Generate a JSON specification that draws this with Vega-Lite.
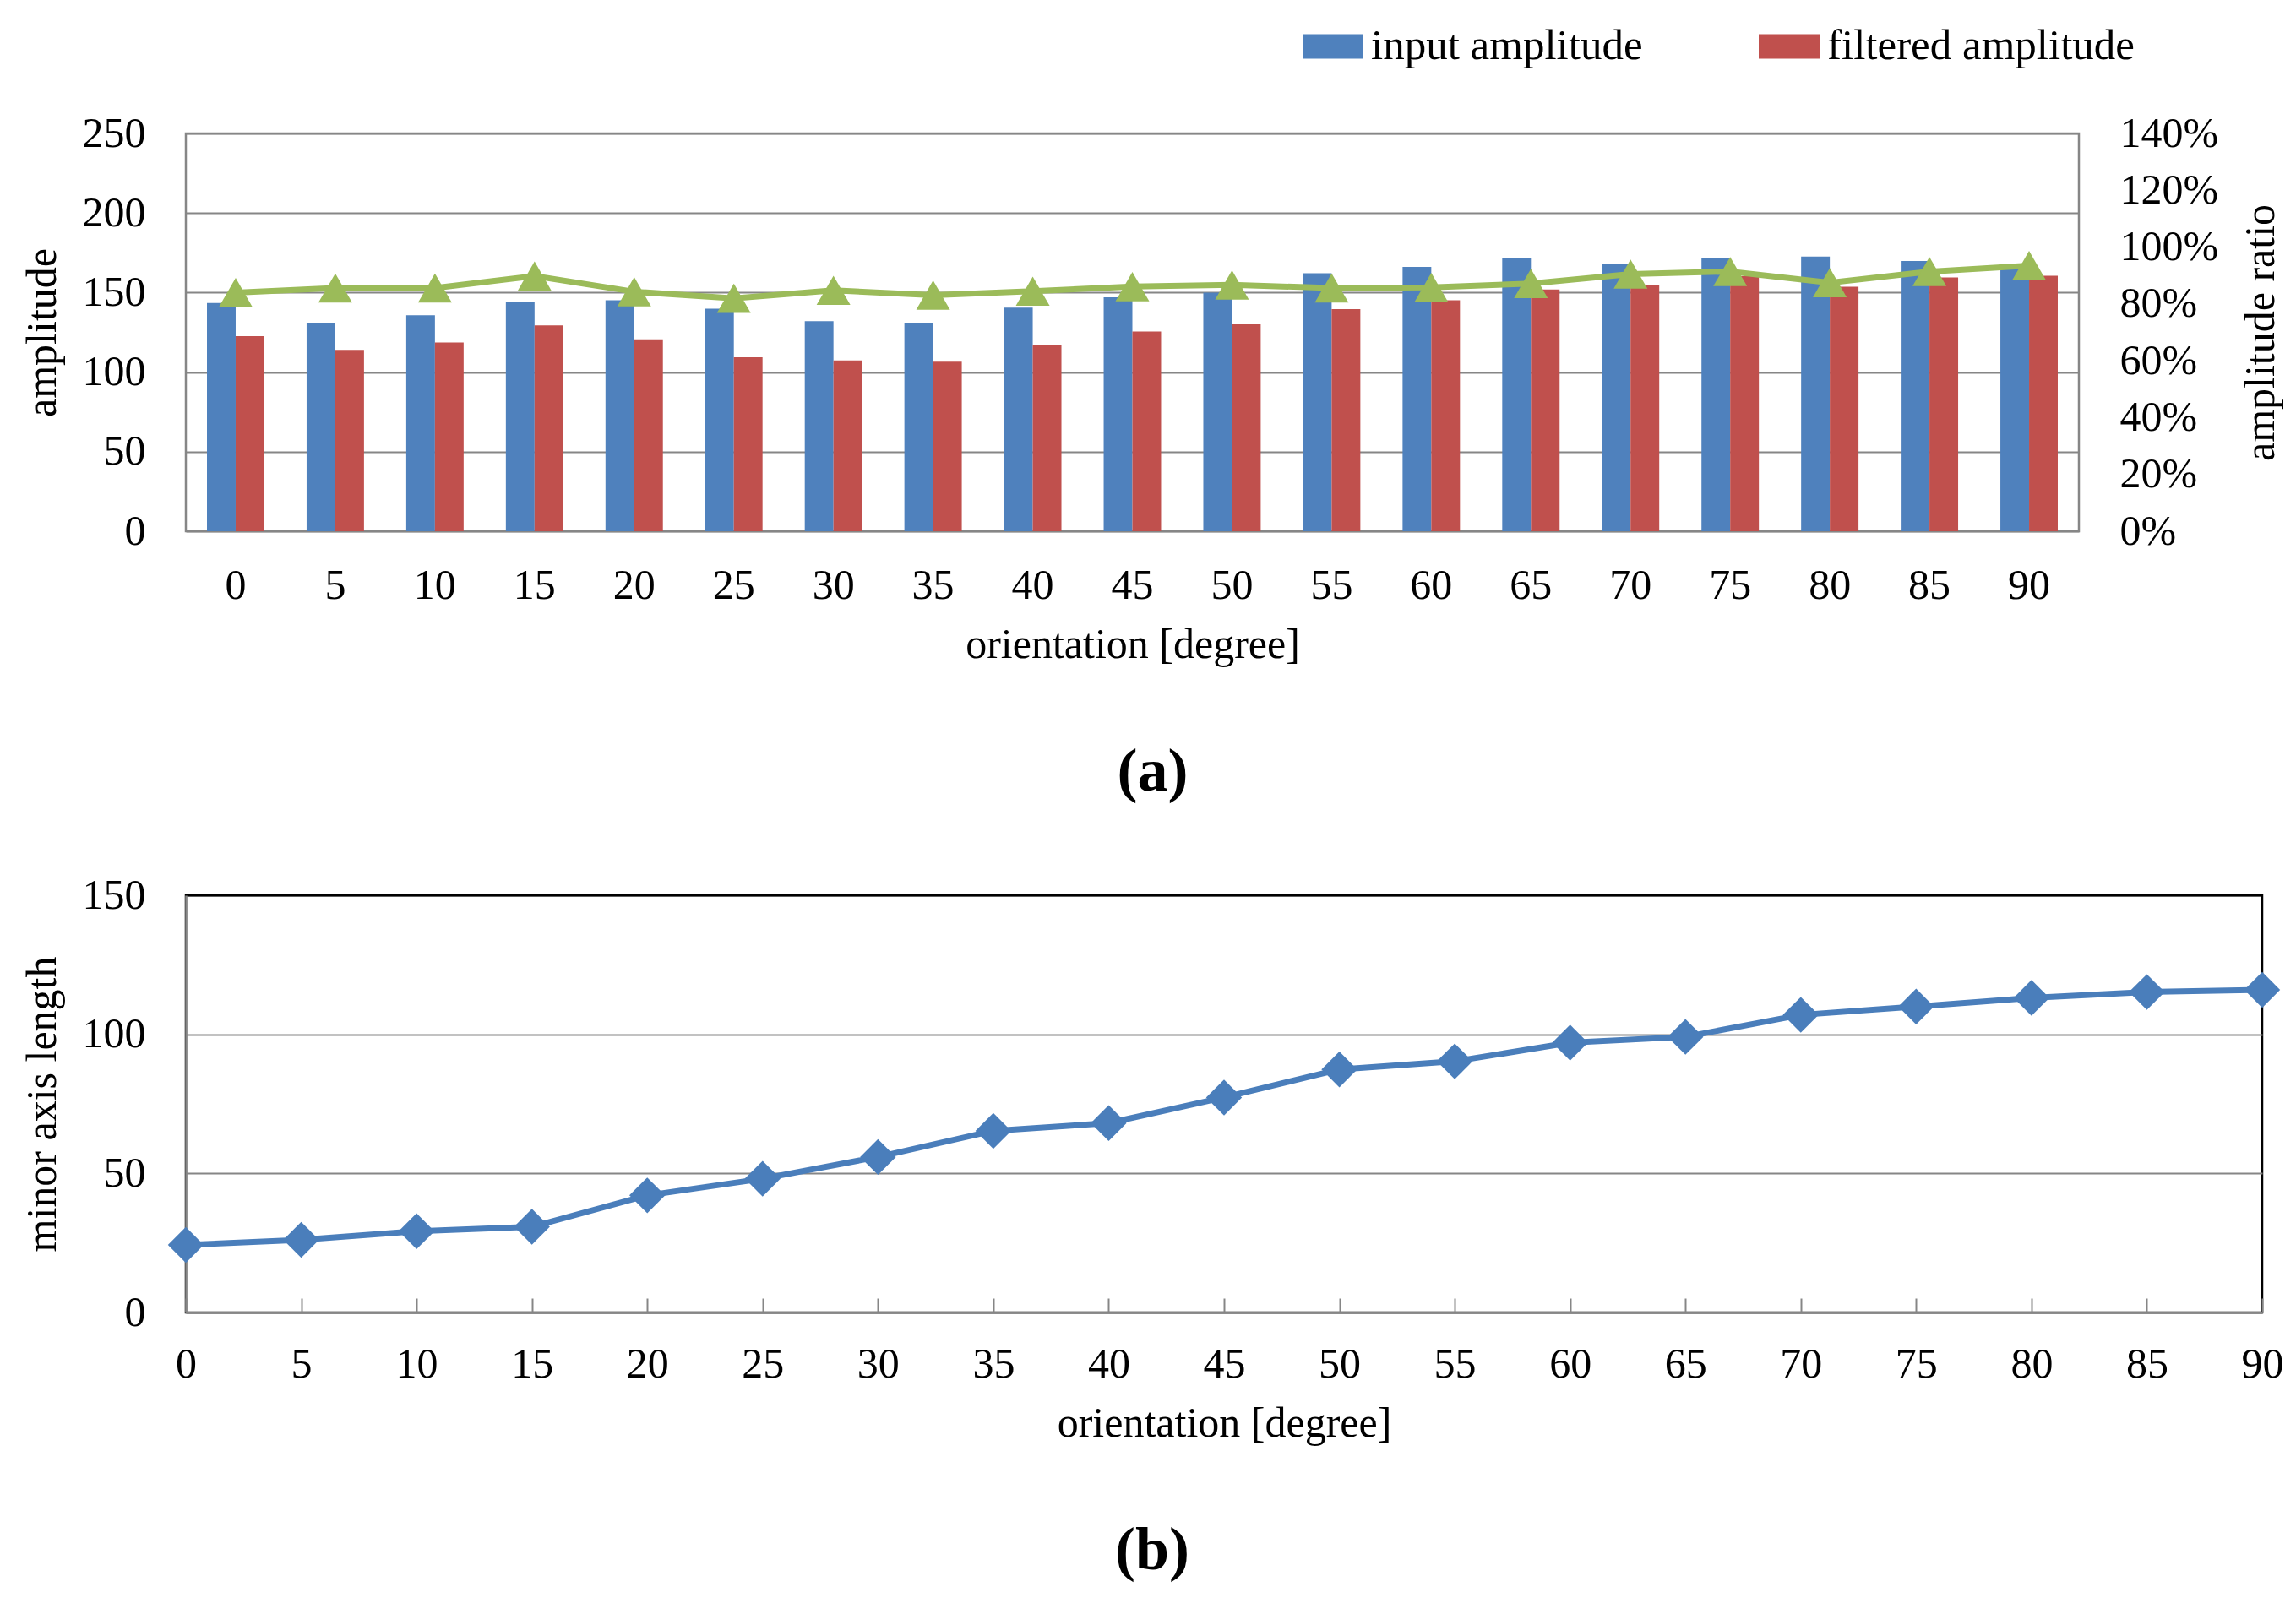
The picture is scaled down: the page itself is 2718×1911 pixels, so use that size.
{
  "$schema": "https://vega.github.io/schema/vega-lite/v6.json",
  "background": "white",
  "padding": {"left": 23, "top": 19, "right": 12, "bottom": 20},
  "config": {
    "font": "Liberation Serif",
    "view": {"stroke": null},
    "axis": {
      "labelFont": "Liberation Serif",
      "labelFontSize": 50,
      "labelColor": "black",
      "titleFont": "Liberation Serif",
      "titleFontSize": 50,
      "titleFontWeight": "normal",
      "titleColor": "black",
      "gridColor": "#868686",
      "gridWidth": 2,
      "domainColor": "#868686",
      "domainWidth": 2.5,
      "tickColor": "#868686",
      "tickWidth": 2
    },
    "legend": {
      "labelFont": "Liberation Serif",
      "labelFontSize": 51,
      "labelColor": "black",
      "labelLimit": 0
    },
    "title": {"font": "Liberation Serif", "color": "black"}
  },
  "spacing": 81,
  "vconcat": [
    {
      "width": 2241,
      "height": 471,
      "view": {"stroke": "#868686", "strokeWidth": 2.5},
      "title": {"text": "(a)", "orient": "bottom", "fontSize": 72, "fontWeight": "bold", "offset": 91, "dx": 24},
      "data": {
        "values": [
          {"angle": 0, "input amplitude": 143.5, "filtered amplitude": 122.6, "ratio": 0.84},
          {"angle": 5, "input amplitude": 131, "filtered amplitude": 114, "ratio": 0.856},
          {"angle": 10, "input amplitude": 135.7, "filtered amplitude": 118.6, "ratio": 0.856},
          {"angle": 15, "input amplitude": 144.4, "filtered amplitude": 129.4, "ratio": 0.898},
          {"angle": 20, "input amplitude": 145.2, "filtered amplitude": 120.6, "ratio": 0.843},
          {"angle": 25, "input amplitude": 139.8, "filtered amplitude": 109.3, "ratio": 0.82},
          {"angle": 30, "input amplitude": 132, "filtered amplitude": 107.3, "ratio": 0.848},
          {"angle": 35, "input amplitude": 131, "filtered amplitude": 106.5, "ratio": 0.831},
          {"angle": 40, "input amplitude": 140.5, "filtered amplitude": 116.9, "ratio": 0.845},
          {"angle": 45, "input amplitude": 147, "filtered amplitude": 125.5, "ratio": 0.861},
          {"angle": 50, "input amplitude": 150, "filtered amplitude": 130, "ratio": 0.867},
          {"angle": 55, "input amplitude": 162.2, "filtered amplitude": 139.6, "ratio": 0.856},
          {"angle": 60, "input amplitude": 166.1, "filtered amplitude": 145.2, "ratio": 0.858},
          {"angle": 65, "input amplitude": 171.8, "filtered amplitude": 151.9, "ratio": 0.872},
          {"angle": 70, "input amplitude": 167.9, "filtered amplitude": 154.6, "ratio": 0.905},
          {"angle": 75, "input amplitude": 171.8, "filtered amplitude": 160.3, "ratio": 0.914},
          {"angle": 80, "input amplitude": 172.6, "filtered amplitude": 153.6, "ratio": 0.875},
          {"angle": 85, "input amplitude": 169.9, "filtered amplitude": 159.5, "ratio": 0.914},
          {"angle": 90, "input amplitude": 165, "filtered amplitude": 160.5, "ratio": 0.935}
        ]
      },
      "layer": [
        {
          "transform": [{"fold": ["input amplitude", "filtered amplitude"], "as": ["series", "amp"]}],
          "mark": {"type": "bar"},
          "encoding": {
            "x": {
              "field": "angle",
              "type": "ordinal",
              "scale": {"paddingInner": 0.424, "paddingOuter": 0.212},
              "axis": {"labelAngle": 0, "ticks": false, "domain": false, "labelPadding": 39, "title": "orientation  [degree]", "titlePadding": 20}
            },
            "xOffset": {"field": "series", "type": "nominal", "sort": ["input amplitude", "filtered amplitude"]},
            "y": {
              "field": "amp",
              "type": "quantitative",
              "scale": {"domain": [0, 250]},
              "axis": {"values": [0, 50, 100, 150, 200, 250], "ticks": false, "domain": false, "labelPadding": 48, "title": "amplitude", "titlePadding": 22}
            },
            "color": {
              "field": "series",
              "type": "nominal",
              "sort": ["input amplitude", "filtered amplitude"],
              "scale": {"domain": ["input amplitude", "filtered amplitude"], "range": ["#4F81BD", "#C0504D"]},
              "legend": {
                "title": null,
                "orient": "none",
                "direction": "horizontal",
                "legendX": 1322,
                "legendY": -139,
                "symbolType": "M-1,-0.4H1V0.4H-1Z",
                "symbolSize": 5184,
                "symbolStrokeWidth": 0,
                "labelOffset": 9,
                "columnPadding": 137
              }
            }
          }
        },
        {
          "mark": {
            "type": "line",
            "color": "#9BBB59",
            "strokeWidth": 7,
            "point": {"shape": "triangle-up", "size": 1600, "filled": true, "color": "#9BBB59", "opacity": 1}
          },
          "encoding": {
            "x": {"field": "angle", "type": "ordinal"},
            "y": {
              "field": "ratio",
              "type": "quantitative",
              "scale": {"domain": [0, 1.4]},
              "axis": {
                "orient": "right",
                "format": ".0%",
                "values": [0, 0.2, 0.4, 0.6, 0.8, 1.0, 1.2, 1.4],
                "grid": false,
                "ticks": false,
                "domain": false,
                "labelPadding": 48,
                "title": "amplitude ratio",
                "titleAngle": 270,
                "titleBaseline": "top",
                "titlePadding": 26
              }
            }
          }
        }
      ],
      "resolve": {"scale": {"y": "independent"}}
    },
    {
      "width": 2458,
      "height": 494,
      "view": {"stroke": "black", "strokeWidth": 2.5},
      "title": {"text": "(b)", "orient": "bottom", "fontSize": 72, "fontWeight": "bold", "offset": 91, "dx": -85},
      "data": {
        "values": [
          {"angle": 0, "length": 24.3},
          {"angle": 5, "length": 26.1},
          {"angle": 10, "length": 29.2},
          {"angle": 15, "length": 30.8},
          {"angle": 20, "length": 42.1},
          {"angle": 25, "length": 48.1},
          {"angle": 30, "length": 55.9},
          {"angle": 35, "length": 65.3},
          {"angle": 40, "length": 68.1},
          {"angle": 45, "length": 77.3},
          {"angle": 50, "length": 87.4},
          {"angle": 55, "length": 90.3},
          {"angle": 60, "length": 97},
          {"angle": 65, "length": 99.1},
          {"angle": 70, "length": 107},
          {"angle": 75, "length": 110},
          {"angle": 80, "length": 113.1},
          {"angle": 85, "length": 115.2},
          {"angle": 90, "length": 116}
        ]
      },
      "mark": {
        "type": "line",
        "color": "#4A7EBB",
        "strokeWidth": 7,
        "point": {"shape": "diamond", "size": 1800, "filled": true, "color": "#4A7EBB", "opacity": 1}
      },
      "encoding": {
        "x": {
          "field": "angle",
          "type": "quantitative",
          "scale": {"domain": [0, 90], "nice": false},
          "axis": {"values": [0, 5, 10, 15, 20, 25, 30, 35, 40, 45, 50, 55, 60, 65, 70, 75, 80, 85, 90], "grid": false, "tickSize": -17, "labelPadding": 53, "labelFlush": false, "title": "orientation  [degree]", "titlePadding": 20}
        },
        "y": {
          "field": "length",
          "type": "quantitative",
          "scale": {"domain": [0, 150]},
          "axis": {
            "values": [0, 50, 100, 150],
            "ticks": false,
            "labelPadding": 48,
            "title": "minor axis length",
            "titlePadding": 22,
            "gridColor": {"condition": {"test": "datum.value === 150", "value": "black"}, "value": "#868686"}
          }
        }
      }
    }
  ]
}
